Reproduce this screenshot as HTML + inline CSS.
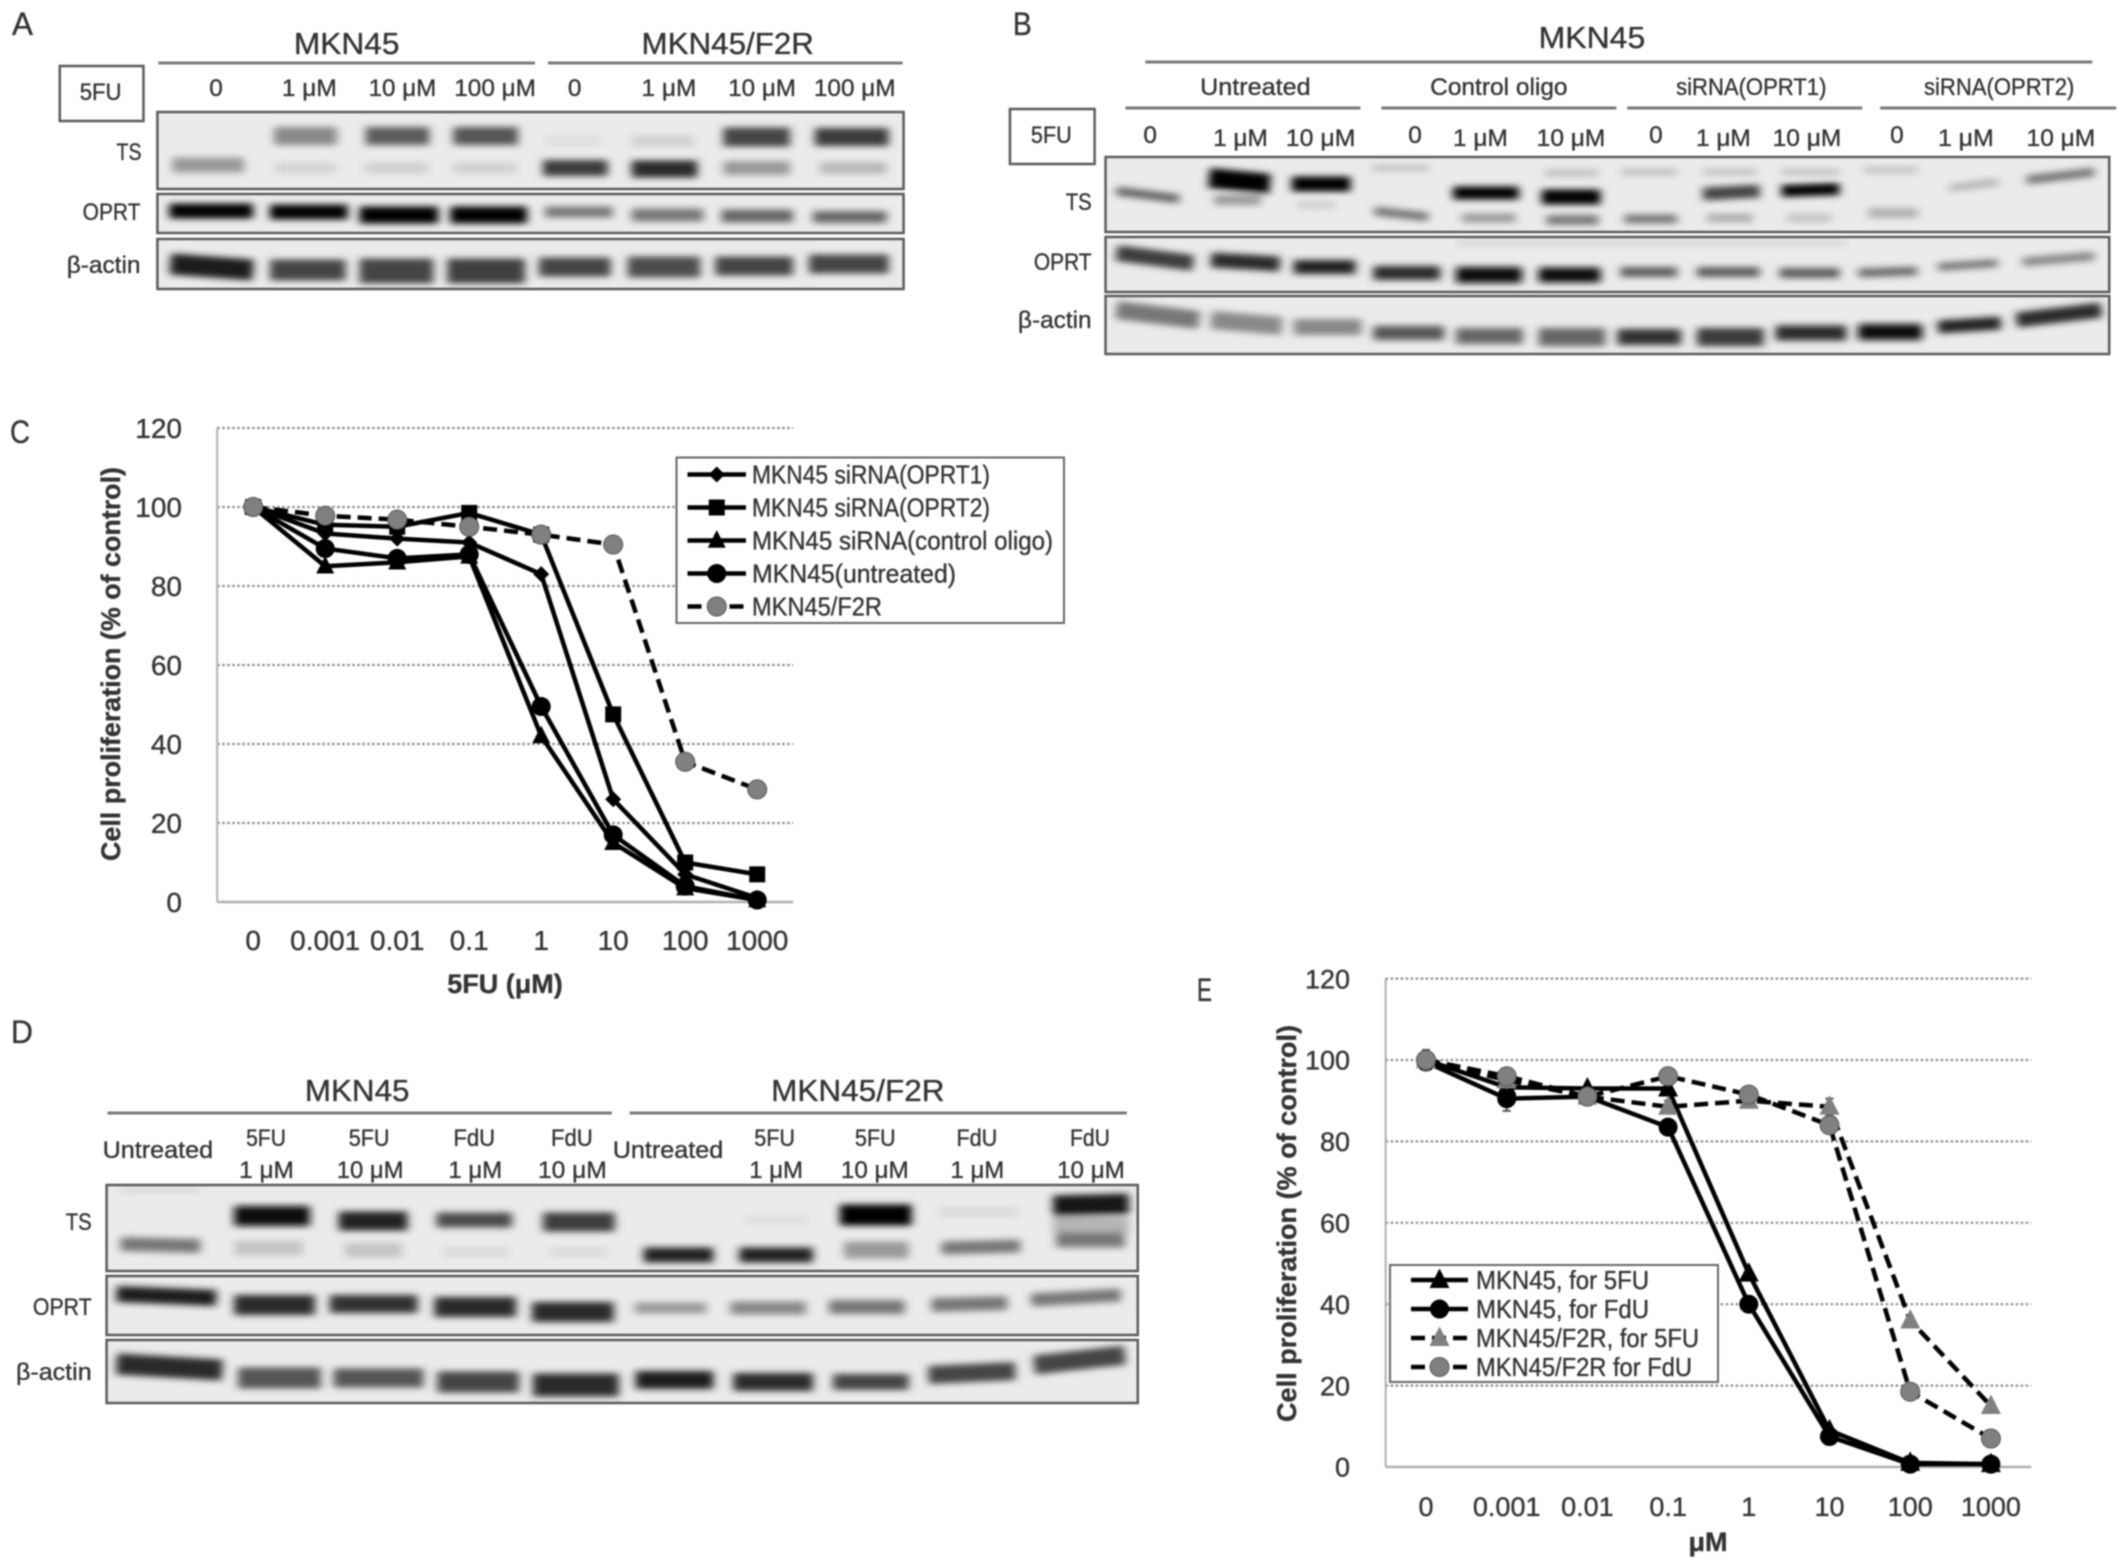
<!DOCTYPE html>
<html lang="en">
<head>
<meta charset="utf-8">
<title>5-FU resistance figure</title>
<style>
html,body{margin:0;padding:0;background:#fff;width:2126px;height:1565px;overflow:hidden}
#figure{display:block;filter:blur(0.8px)}
text{font-family:"Liberation Sans",sans-serif;fill:#333;stroke:#333;stroke-width:.35px}
.big{font-size:31px}
.lab{font-size:24.5px}
.side{font-size:24px}
.letter{font-size:32px}
.rule{stroke:#777;stroke-width:3}
.frame{fill:none;stroke:#5a5a5a;stroke-width:2.5}
.bg{fill:#ebebeb}
.boxed{fill:none;stroke:#5a5a5a;stroke-width:2.5}
</style>
</head>
<body>
<svg id="figure" xmlns="http://www.w3.org/2000/svg" width="2126" height="1565" viewBox="0 0 2126 1565">
<defs>
<filter id="soft" filterUnits="userSpaceOnUse" x="0" y="0" width="2126" height="1565"><feGaussianBlur stdDeviation="4.5 3.2"/></filter>
</defs>

<!-- PANEL A -->
<g transform="scale(0.9962 1)">
<text class="letter" x="12" y="35" textLength="21" lengthAdjust="spacingAndGlyphs">A</text>
<text class="big" x="295" y="54" textLength="106" lengthAdjust="spacingAndGlyphs">MKN45</text>
<text class="big" x="644" y="54" textLength="173" lengthAdjust="spacingAndGlyphs">MKN45/F2R</text>
<line class="rule" x1="159" y1="63" x2="537" y2="63"/>
<line class="rule" x1="550" y1="63" x2="906" y2="63"/>
<rect class="boxed" x="60" y="66" width="84" height="55"/>
<text class="lab" x="80" y="100" textLength="42" lengthAdjust="spacingAndGlyphs">5FU</text>
<text class="lab" x="210" y="96">0</text>
<text class="lab" x="283" y="96" textLength="55" lengthAdjust="spacingAndGlyphs">1 μM</text>
<text class="lab" x="370" y="96" textLength="68" lengthAdjust="spacingAndGlyphs">10 μM</text>
<text class="lab" x="456" y="96" textLength="82" lengthAdjust="spacingAndGlyphs">100 μM</text>
<text class="lab" x="570" y="96">0</text>
<text class="lab" x="644" y="96" textLength="55" lengthAdjust="spacingAndGlyphs">1 μM</text>
<text class="lab" x="731" y="96" textLength="68" lengthAdjust="spacingAndGlyphs">10 μM</text>
<text class="lab" x="817" y="96" textLength="82" lengthAdjust="spacingAndGlyphs">100 μM</text>
<text class="side" x="117" y="160" textLength="25" lengthAdjust="spacingAndGlyphs">TS</text>
<text class="side" x="83" y="220" textLength="58" lengthAdjust="spacingAndGlyphs">OPRT</text>
<text class="side" x="67" y="273" textLength="74" lengthAdjust="spacingAndGlyphs">β-actin</text>
<rect class="bg" x="158" y="112" width="749" height="77"/>
<rect class="bg" x="158" y="194" width="749" height="39"/>
<rect class="bg" x="158" y="239" width="749" height="50"/>
<g filter="url(#soft)">
<line x1="173" y1="165" x2="245" y2="165" stroke-width="15" stroke="#999"/>
<line x1="275" y1="136" x2="338" y2="136" stroke-width="18" stroke="#888"/>
<line x1="275" y1="168" x2="338" y2="168" stroke-width="11" stroke="#d4d4d4"/>
<line x1="367" y1="136" x2="431" y2="136" stroke-width="18" stroke="#5c5c5c"/>
<line x1="367" y1="168" x2="429" y2="168" stroke-width="11" stroke="#cfcfcf"/>
<line x1="455" y1="136" x2="520" y2="136" stroke-width="18" stroke="#555"/>
<line x1="455" y1="168" x2="518" y2="168" stroke-width="11" stroke="#d0d0d0"/>
<line x1="548" y1="141" x2="604" y2="141" stroke-width="10" stroke="#dedede"/>
<line x1="545" y1="168" x2="610" y2="168" stroke-width="16" stroke="#3a3a3a"/>
<line x1="634" y1="141" x2="697" y2="141" stroke-width="12" stroke="#d2d2d2"/>
<line x1="634" y1="169" x2="700" y2="169" stroke-width="17" stroke="#2a2a2a"/>
<line x1="726" y1="137" x2="793" y2="137" stroke-width="19" stroke="#444"/>
<line x1="726" y1="168" x2="793" y2="168" stroke-width="14" stroke="#999"/>
<line x1="818" y1="137" x2="892" y2="137" stroke-width="18" stroke="#3a3a3a"/>
<line x1="823" y1="168" x2="890" y2="168" stroke-width="12" stroke="#b8b8b8"/>
</g>
<g filter="url(#soft)">
<line x1="170" y1="211" x2="254" y2="211" stroke-width="15" stroke="#000"/>
<line x1="271" y1="212" x2="349" y2="212" stroke-width="15" stroke="#000"/>
<line x1="361" y1="215" x2="440" y2="215" stroke-width="17" stroke="#000"/>
<line x1="452" y1="215" x2="529" y2="215" stroke-width="17" stroke="#000"/>
<line x1="547" y1="212" x2="615" y2="212" stroke-width="11" stroke="#777"/>
<line x1="634" y1="215" x2="706" y2="215" stroke-width="13" stroke="#777"/>
<line x1="724" y1="216" x2="796" y2="216" stroke-width="13" stroke="#666"/>
<line x1="816" y1="217" x2="890" y2="217" stroke-width="12" stroke="#666"/>
</g>
<g filter="url(#soft)">
<line x1="171" y1="264" x2="254" y2="270" stroke-width="21" stroke="#1e1e1e"/>
<line x1="271" y1="270" x2="347" y2="270" stroke-width="21" stroke="#444"/>
<line x1="361" y1="271" x2="435" y2="271" stroke-width="25" stroke="#444"/>
<line x1="449" y1="271" x2="527" y2="271" stroke-width="25" stroke="#404040"/>
<line x1="541" y1="267" x2="613" y2="267" stroke-width="19" stroke="#444"/>
<line x1="630" y1="267" x2="703" y2="267" stroke-width="21" stroke="#4d4d4d"/>
<line x1="718" y1="266" x2="796" y2="266" stroke-width="19" stroke="#444"/>
<line x1="812" y1="264" x2="892" y2="264" stroke-width="19" stroke="#444"/>
</g>
<rect class="frame" x="158" y="112" width="749" height="77"/>
<rect class="frame" x="158" y="194" width="749" height="39"/>
<rect class="frame" x="158" y="239" width="749" height="50"/>
</g>

<!-- PANEL B -->
<g transform="translate(1000 0) scale(0.9957 1) translate(-1000 0)">
<text class="letter" x="1013" y="35" textLength="19" lengthAdjust="spacingAndGlyphs">B</text>
<text class="big" x="1541" y="48" textLength="107" lengthAdjust="spacingAndGlyphs">MKN45</text>
<line class="rule" x1="1146" y1="62" x2="2097" y2="62"/>
<text class="lab" x="1201" y="95" textLength="111" lengthAdjust="spacingAndGlyphs">Untreated</text>
<text class="lab" x="1432" y="95" textLength="138" lengthAdjust="spacingAndGlyphs">Control oligo</text>
<text class="lab" x="1679" y="95" textLength="151" lengthAdjust="spacingAndGlyphs">siRNA(OPRT1)</text>
<text class="lab" x="1928" y="95" textLength="151" lengthAdjust="spacingAndGlyphs">siRNA(OPRT2)</text>
<line class="rule" x1="1126" y1="108" x2="1362" y2="108"/>
<line class="rule" x1="1383" y1="108" x2="1619" y2="108"/>
<line class="rule" x1="1630" y1="108" x2="1866" y2="108"/>
<line class="rule" x1="1884" y1="108" x2="2121" y2="108"/>
<rect class="boxed" x="1010" y="109" width="85" height="55"/>
<text class="lab" x="1031" y="143" textLength="41" lengthAdjust="spacingAndGlyphs">5FU</text>
<text class="lab" x="1144" y="143">0</text>
<text class="lab" x="1214" y="146" textLength="55" lengthAdjust="spacingAndGlyphs">1 μM</text>
<text class="lab" x="1287" y="146" textLength="70" lengthAdjust="spacingAndGlyphs">10 μM</text>
<text class="lab" x="1410" y="143">0</text>
<text class="lab" x="1455" y="146" textLength="55" lengthAdjust="spacingAndGlyphs">1 μM</text>
<text class="lab" x="1539" y="146" textLength="69" lengthAdjust="spacingAndGlyphs">10 μM</text>
<text class="lab" x="1652" y="143">0</text>
<text class="lab" x="1699" y="146" textLength="55" lengthAdjust="spacingAndGlyphs">1 μM</text>
<text class="lab" x="1776" y="146" textLength="69" lengthAdjust="spacingAndGlyphs">10 μM</text>
<text class="lab" x="1894" y="143">0</text>
<text class="lab" x="1942" y="146" textLength="56" lengthAdjust="spacingAndGlyphs">1 μM</text>
<text class="lab" x="2031" y="146" textLength="69" lengthAdjust="spacingAndGlyphs">10 μM</text>
<text class="side" x="1066" y="210" textLength="26" lengthAdjust="spacingAndGlyphs">TS</text>
<text class="side" x="1034" y="270" textLength="58" lengthAdjust="spacingAndGlyphs">OPRT</text>
<text class="side" x="1018" y="328" textLength="74" lengthAdjust="spacingAndGlyphs">β-actin</text>
<rect class="bg" x="1106" y="157" width="1008" height="75"/>
<rect class="bg" x="1106" y="237" width="1008" height="55"/>
<rect class="bg" x="1106" y="296" width="1008" height="58"/>
<g filter="url(#soft)">
<line x1="1117" y1="191" x2="1180" y2="199" stroke-width="9" stroke="#666"/>
<line x1="1210" y1="178" x2="1271" y2="184" stroke-width="20" stroke="#000"/>
<line x1="1215" y1="200" x2="1262" y2="200" stroke-width="10" stroke="#999"/>
<line x1="1293" y1="184" x2="1352" y2="184" stroke-width="15" stroke="#000"/>
<line x1="1298" y1="205" x2="1337" y2="205" stroke-width="8" stroke="#d0d0d0"/>
<line x1="1374" y1="168" x2="1431" y2="168" stroke-width="7" stroke="#c4c4c4"/>
<line x1="1376" y1="211" x2="1430" y2="217" stroke-width="9" stroke="#777"/>
<line x1="1455" y1="193" x2="1521" y2="193" stroke-width="13" stroke="#000"/>
<line x1="1464" y1="218" x2="1518" y2="218" stroke-width="9" stroke="#999"/>
<line x1="1547" y1="173" x2="1601" y2="173" stroke-width="8" stroke="#c4c4c4"/>
<line x1="1544" y1="197" x2="1603" y2="197" stroke-width="15" stroke="#000"/>
<line x1="1549" y1="220" x2="1601" y2="220" stroke-width="10" stroke="#777"/>
<line x1="1624" y1="172" x2="1680" y2="172" stroke-width="7" stroke="#c0c0c0"/>
<line x1="1627" y1="219" x2="1680" y2="219" stroke-width="9" stroke="#777"/>
<line x1="1706" y1="172" x2="1760" y2="172" stroke-width="7" stroke="#c4c4c4"/>
<line x1="1706" y1="194" x2="1763" y2="191" stroke-width="13" stroke="#444"/>
<line x1="1710" y1="218" x2="1756" y2="218" stroke-width="9" stroke="#b0b0b0"/>
<line x1="1785" y1="172" x2="1843" y2="172" stroke-width="7" stroke="#c4c4c4"/>
<line x1="1785" y1="191" x2="1843" y2="189" stroke-width="12" stroke="#000"/>
<line x1="1790" y1="218" x2="1835" y2="218" stroke-width="9" stroke="#c4c4c4"/>
<line x1="1868" y1="170" x2="1922" y2="170" stroke-width="7" stroke="#c4c4c4"/>
<line x1="1872" y1="213" x2="1922" y2="213" stroke-width="10" stroke="#b0b0b0"/>
<line x1="1954" y1="188" x2="2003" y2="182" stroke-width="8" stroke="#b8b8b8"/>
<line x1="2031" y1="180" x2="2099" y2="172" stroke-width="9" stroke="#777"/>
</g>
<g filter="url(#soft)">
<line x1="1117" y1="253" x2="1194" y2="263" stroke-width="16" stroke="#3c3c3c"/>
<line x1="1212" y1="260" x2="1281" y2="264" stroke-width="15" stroke="#2c2c2c"/>
<line x1="1295" y1="267" x2="1357" y2="267" stroke-width="14" stroke="#222"/>
<line x1="1375" y1="273" x2="1442" y2="273" stroke-width="14" stroke="#2a2a2a"/>
<line x1="1458" y1="275" x2="1524" y2="275" stroke-width="16" stroke="#0c0c0c"/>
<line x1="1541" y1="275" x2="1603" y2="275" stroke-width="15" stroke="#0c0c0c"/>
<line x1="1623" y1="272" x2="1680" y2="272" stroke-width="10" stroke="#5c5c5c"/>
<line x1="1700" y1="272" x2="1763" y2="272" stroke-width="10" stroke="#5c5c5c"/>
<line x1="1783" y1="273" x2="1843" y2="273" stroke-width="10" stroke="#5c5c5c"/>
<line x1="1862" y1="273" x2="1921" y2="271" stroke-width="9" stroke="#6c6c6c"/>
<line x1="1942" y1="267" x2="2002" y2="263" stroke-width="8" stroke="#777"/>
<line x1="2027" y1="262" x2="2099" y2="256" stroke-width="9" stroke="#888"/>
<line x1="1460" y1="243" x2="1850" y2="243" stroke-width="6" stroke="#d4d4d4"/>
</g>
<g filter="url(#soft)">
<line x1="1117" y1="310" x2="1200" y2="320" stroke-width="18" stroke="#777"/>
<line x1="1212" y1="320" x2="1283" y2="326" stroke-width="18" stroke="#888"/>
<line x1="1295" y1="327" x2="1363" y2="327" stroke-width="16" stroke="#888"/>
<line x1="1375" y1="333" x2="1446" y2="333" stroke-width="14" stroke="#555"/>
<line x1="1458" y1="336" x2="1525" y2="336" stroke-width="16" stroke="#666"/>
<line x1="1541" y1="337" x2="1608" y2="337" stroke-width="18" stroke="#666"/>
<line x1="1620" y1="337" x2="1684" y2="337" stroke-width="16" stroke="#333"/>
<line x1="1700" y1="337" x2="1767" y2="337" stroke-width="18" stroke="#3a3a3a"/>
<line x1="1779" y1="333" x2="1850" y2="333" stroke-width="15" stroke="#2a2a2a"/>
<line x1="1862" y1="332" x2="1926" y2="332" stroke-width="16" stroke="#0c0c0c"/>
<line x1="1942" y1="327" x2="2005" y2="323" stroke-width="13" stroke="#222"/>
<line x1="2021" y1="320" x2="2106" y2="310" stroke-width="15" stroke="#2a2a2a"/>
</g>
<rect class="frame" x="1106" y="157" width="1008" height="75"/>
<rect class="frame" x="1106" y="237" width="1008" height="55"/>
<rect class="frame" x="1106" y="296" width="1008" height="58"/>
</g>

<!-- PANEL C -->
<text class="letter" x="10" y="443" textLength="20" lengthAdjust="spacingAndGlyphs">C</text>
<g id="chart-c"></g>

<!-- PANEL D -->
<g transform="scale(0.9963 1)">
<text class="letter" x="11" y="1043" textLength="22" lengthAdjust="spacingAndGlyphs">D</text>
<text class="big" x="306" y="1101" textLength="105" lengthAdjust="spacingAndGlyphs">MKN45</text>
<text class="big" x="774" y="1101" textLength="174" lengthAdjust="spacingAndGlyphs">MKN45/F2R</text>
<line class="rule" x1="108" y1="1113" x2="614" y2="1113"/>
<line class="rule" x1="632" y1="1113" x2="1131" y2="1113"/>
<text class="lab" x="103" y="1158" textLength="111" lengthAdjust="spacingAndGlyphs">Untreated</text>
<text class="lab" x="247" y="1146" textLength="40" lengthAdjust="spacingAndGlyphs">5FU</text>
<text class="lab" x="240" y="1178" textLength="55" lengthAdjust="spacingAndGlyphs">1 μM</text>
<text class="lab" x="350" y="1146" textLength="41" lengthAdjust="spacingAndGlyphs">5FU</text>
<text class="lab" x="338" y="1178" textLength="67" lengthAdjust="spacingAndGlyphs">10 μM</text>
<text class="lab" x="455" y="1146" textLength="42" lengthAdjust="spacingAndGlyphs">FdU</text>
<text class="lab" x="450" y="1178" textLength="54" lengthAdjust="spacingAndGlyphs">1 μM</text>
<text class="lab" x="553" y="1146" textLength="42" lengthAdjust="spacingAndGlyphs">FdU</text>
<text class="lab" x="540" y="1178" textLength="69" lengthAdjust="spacingAndGlyphs">10 μM</text>
<text class="lab" x="615" y="1158" textLength="111" lengthAdjust="spacingAndGlyphs">Untreated</text>
<text class="lab" x="757" y="1146" textLength="41" lengthAdjust="spacingAndGlyphs">5FU</text>
<text class="lab" x="752" y="1178" textLength="54" lengthAdjust="spacingAndGlyphs">1 μM</text>
<text class="lab" x="858" y="1146" textLength="41" lengthAdjust="spacingAndGlyphs">5FU</text>
<text class="lab" x="844" y="1178" textLength="68" lengthAdjust="spacingAndGlyphs">10 μM</text>
<text class="lab" x="960" y="1146" textLength="41" lengthAdjust="spacingAndGlyphs">FdU</text>
<text class="lab" x="954" y="1178" textLength="54" lengthAdjust="spacingAndGlyphs">1 μM</text>
<text class="lab" x="1074" y="1146" textLength="40" lengthAdjust="spacingAndGlyphs">FdU</text>
<text class="lab" x="1061" y="1178" textLength="68" lengthAdjust="spacingAndGlyphs">10 μM</text>
<text class="side" x="66" y="1230" textLength="26" lengthAdjust="spacingAndGlyphs">TS</text>
<text class="side" x="33" y="1315" textLength="59" lengthAdjust="spacingAndGlyphs">OPRT</text>
<text class="side" x="16" y="1380" textLength="76" lengthAdjust="spacingAndGlyphs">β-actin</text>
<rect class="bg" x="107" y="1185" width="1035" height="86"/>
<rect class="bg" x="107" y="1276" width="1035" height="59"/>
<rect class="bg" x="107" y="1340" width="1035" height="63"/>
<g filter="url(#soft)">
<line x1="121" y1="1244" x2="201" y2="1246" stroke-width="14" stroke="#777"/>
<line x1="121" y1="1190" x2="201" y2="1190" stroke-width="6" stroke="#d8d8d8"/>
<line x1="235" y1="1216" x2="311" y2="1216" stroke-width="20" stroke="#0c0c0c"/>
<line x1="235" y1="1248" x2="304" y2="1248" stroke-width="15" stroke="#c4c4c4"/>
<line x1="340" y1="1221" x2="409" y2="1221" stroke-width="19" stroke="#222"/>
<line x1="346" y1="1250" x2="403" y2="1250" stroke-width="15" stroke="#c4c4c4"/>
<line x1="438" y1="1220" x2="514" y2="1220" stroke-width="15" stroke="#4c4c4c"/>
<line x1="445" y1="1252" x2="510" y2="1252" stroke-width="11" stroke="#dcdcdc"/>
<line x1="545" y1="1222" x2="617" y2="1222" stroke-width="19" stroke="#3c3c3c"/>
<line x1="552" y1="1252" x2="610" y2="1252" stroke-width="11" stroke="#dcdcdc"/>
<line x1="646" y1="1255" x2="716" y2="1255" stroke-width="15" stroke="#222"/>
<line x1="747" y1="1220" x2="812" y2="1220" stroke-width="9" stroke="#e0e0e0"/>
<line x1="742" y1="1255" x2="816" y2="1255" stroke-width="15" stroke="#222"/>
<line x1="843" y1="1215" x2="915" y2="1215" stroke-width="21" stroke="#000"/>
<line x1="847" y1="1250" x2="912" y2="1250" stroke-width="17" stroke="#999"/>
<line x1="943" y1="1212" x2="1022" y2="1212" stroke-width="11" stroke="#dcdcdc"/>
<line x1="945" y1="1248" x2="1024" y2="1246" stroke-width="13" stroke="#777"/>
<line x1="1057" y1="1225" x2="1133" y2="1225" stroke-width="16" stroke="#b4b4b4"/>
<line x1="1057" y1="1206" x2="1133" y2="1204" stroke-width="21" stroke="#141414"/>
<line x1="1060" y1="1240" x2="1129" y2="1240" stroke-width="15" stroke="#777"/>
</g>
<g filter="url(#soft)">
<line x1="117" y1="1294" x2="217" y2="1298" stroke-width="16" stroke="#1a1a1a"/>
<line x1="235" y1="1305" x2="316" y2="1305" stroke-width="20" stroke="#2c2c2c"/>
<line x1="331" y1="1304" x2="419" y2="1304" stroke-width="18" stroke="#333"/>
<line x1="436" y1="1307" x2="518" y2="1307" stroke-width="20" stroke="#2c2c2c"/>
<line x1="534" y1="1312" x2="616" y2="1312" stroke-width="20" stroke="#2c2c2c"/>
<line x1="637" y1="1308" x2="709" y2="1308" stroke-width="11" stroke="#999"/>
<line x1="733" y1="1308" x2="809" y2="1308" stroke-width="13" stroke="#888"/>
<line x1="832" y1="1307" x2="908" y2="1307" stroke-width="14" stroke="#777"/>
<line x1="935" y1="1305" x2="1011" y2="1303" stroke-width="14" stroke="#777"/>
<line x1="1035" y1="1300" x2="1125" y2="1295" stroke-width="13" stroke="#777"/>
</g>
<g filter="url(#soft)">
<line x1="117" y1="1364" x2="223" y2="1370" stroke-width="21" stroke="#2c2c2c"/>
<line x1="239" y1="1378" x2="322" y2="1378" stroke-width="21" stroke="#555"/>
<line x1="335" y1="1378" x2="425" y2="1378" stroke-width="19" stroke="#555"/>
<line x1="439" y1="1382" x2="521" y2="1382" stroke-width="21" stroke="#444"/>
<line x1="535" y1="1385" x2="621" y2="1385" stroke-width="23" stroke="#2c2c2c"/>
<line x1="638" y1="1380" x2="716" y2="1380" stroke-width="18" stroke="#1a1a1a"/>
<line x1="736" y1="1382" x2="816" y2="1382" stroke-width="18" stroke="#2c2c2c"/>
<line x1="836" y1="1382" x2="912" y2="1382" stroke-width="16" stroke="#444"/>
<line x1="932" y1="1375" x2="1019" y2="1371" stroke-width="18" stroke="#444"/>
<line x1="1038" y1="1365" x2="1129" y2="1355" stroke-width="19" stroke="#444"/>
</g>
<rect class="frame" x="107" y="1185" width="1035" height="86"/>
<rect class="frame" x="107" y="1276" width="1035" height="59"/>
<rect class="frame" x="107" y="1340" width="1035" height="63"/>
</g>

<!-- PANEL E -->
<text class="letter" x="1197" y="1001" textLength="15" lengthAdjust="spacingAndGlyphs">E</text>
<g id="chart-e"></g>
</svg>

<script>
// ---- Chart C data ----
const categoriesC = ['0', '0.001', '0.01', '0.1', '1', '10', '100', '1000'];
const yTickLabelsC = [0, 20, 40, 60, 80, 100, 120];
const oprt1ValuesC = [100, 93.3, 92, 91, 83, 26, 7, 1];
const oprt2ValuesC = [100, 95.5, 95, 98.5, 93, 47.5, 10, 7];
const controlOligoValuesC = [100, 85, 86, 87.5, 42, 15, 3.5, 0.5];
const untreatedValuesC = [100, 89.5, 87, 88, 49.5, 17, 4, 0.5];
const f2rValuesC = [100, 97.8, 96.8, 95, 93, 90.5, 35.5, 28.5];
const seriesNamesC = ['MKN45 siRNA(OPRT1)', 'MKN45 siRNA(OPRT2)', 'MKN45 siRNA(control oligo)', 'MKN45(untreated)', 'MKN45/F2R'];

// ---- Chart E data ----
const categoriesE = ['0', '0.001', '0.01', '0.1', '1', '10', '100', '1000'];
const yTickLabelsE = [0, 20, 40, 60, 80, 100, 120];
const mkn5fuValuesE = [100, 93.3, 93, 93, 47.5, 9, 1, 0.7];
const mknFduValuesE = [99.5, 90.5, 91, 83.5, 40, 7.5, 0.7, 0.7];
const f2r5fuValuesE = [100, 95, 91, 88.5, 90, 88.5, 36, 15];
const f2rFduValuesE = [100, 96, 91, 96, 91.5, 84, 18.5, 7];
const mknFduErrorsE = [1.5, 3, 1, 1, 1, 0.5, 0.3, 0.3];
const f2r5fuErrorsE = [2.5, 1.5, 2, 1.5, 1, 2, 1, 1];
const seriesNamesE = ['MKN45, for 5FU', 'MKN45, for FdU', 'MKN45/F2R, for 5FU', 'MKN45/F2R for FdU'];

const NS = 'http://www.w3.org/2000/svg';
function mk(tag, attrs, parent) {
  const n = document.createElementNS(NS, tag);
  for (const k in attrs) n.setAttribute(k, attrs[k]);
  parent.appendChild(n);
  return n;
}
function drawMarker(parent, kind, cx, cy, r, fill) {
  let m;
  if (kind === 'circle') {
    m = mk('circle', {cx: cx, cy: cy, r: r, fill: fill, stroke: fill === '#000' ? '#000' : '#555', 'stroke-width': 1}, parent);
  } else if (kind === 'square') {
    m = mk('rect', {x: cx - r, y: cy - r, width: 2 * r, height: 2 * r, fill: fill}, parent);
  } else if (kind === 'diamond') {
    m = mk('polygon', {points: [cx, cy - r, cx + r, cy, cx, cy + r, cx - r, cy].join(' '), fill: fill}, parent);
  } else {
    m = mk('polygon', {points: [cx, cy - r * 1.15, cx + r, cy + r * 0.8, cx - r, cy + r * 0.8].join(' '), fill: fill}, parent);
  }
  
  
  return m;
}
function drawChart(root, c) {
  const xScale = i => c.x0 + i * c.step;
  const yScale = v => c.yZero - v * c.yUnit;
  const left = xScale(-0.5);
  const right = xScale(c.categories.length - 0.5);

  c.yTicks.forEach(t => {
    if (t > 0) {
      const g = mk('line', {x1: left, x2: right, y1: yScale(t), y2: yScale(t), stroke: '#8a8a8a', 'stroke-width': 2.2, 'stroke-dasharray': '2.5 2.5'}, root);
      
      
    }
    const lab = mk('text', {x: c.yLabelX, y: yScale(t) + c.tickSize * 0.36, 'text-anchor': 'end', 'font-size': c.tickSize}, root);
    lab.textContent = t;
    
    
  });
  const ya = mk('line', {x1: left, x2: left, y1: yScale(120), y2: yScale(0), stroke: '#b0b0b0', 'stroke-width': 2}, root);
  
  
  const xa = mk('line', {x1: left, x2: right, y1: yScale(0), y2: yScale(0), stroke: '#b0b0b0', 'stroke-width': 2.5}, root);
  
  

  c.categories.forEach((cat, i) => {
    const lab = mk('text', {x: xScale(i), y: c.xLabelY, 'text-anchor': 'middle', 'font-size': c.tickSize}, root);
    lab.textContent = cat;
    
    
  });

  const xt = mk('text', {x: c.xTitleX, y: c.xTitleY, 'text-anchor': 'middle', 'font-size': 27, 'font-weight': 'bold'}, root);
  xt.textContent = c.xTitle;
  
  
  const yt = mk('text', {transform: 'translate(' + c.yTitleX + ',' + c.yTitleBottom + ') rotate(-90)', 'font-size': 27, 'font-weight': 'bold', textLength: c.yTitleLen, lengthAdjust: 'spacingAndGlyphs'}, root);
  yt.textContent = 'Cell proliferation (% of control)';
  
  

  c.series.forEach(s => {
    const group = mk('g', {}, root);
    
    
    if (s.errors) {
      s.errors.forEach((e, i) => {
        const eb = mk('path', {d: 'M' + (xScale(i) - 4) + ' ' + yScale(s.values[i] - e) + 'h8M' + xScale(i) + ' ' + yScale(s.values[i] - e) + 'V' + yScale(s.values[i] + e) + 'M' + (xScale(i) - 4) + ' ' + yScale(s.values[i] + e) + 'h8', stroke: '#555', 'stroke-width': 2, fill: 'none'}, group);
        
        
      });
    }
    const pts = s.values.map((v, i) => xScale(i) + ',' + yScale(v)).join(' ');
    const line = mk('polyline', {points: pts, fill: 'none', stroke: '#000', 'stroke-width': s.width, 'stroke-linejoin': 'round'}, group);
    if (s.dashed) line.setAttribute('stroke-dasharray', '14 7');
    
    
    s.values.forEach((v, i) => drawMarker(group, s.marker, xScale(i), yScale(v), s.size, s.fill));
  });

  const lg = mk('g', {}, root);
  
  
  const box = mk('rect', {x: c.legend.x, y: c.legend.y, width: c.legend.w, height: c.legend.h, fill: '#fff', stroke: '#666', 'stroke-width': 2}, lg);
  
  
  c.series.forEach((s, i) => {
    const ry = c.legend.rowY + i * c.legend.rowStep;
    const h = mk('line', {x1: c.legend.hx1, x2: c.legend.hx2, y1: ry, y2: ry, stroke: '#000', 'stroke-width': s.width}, lg);
    if (s.dashed) h.setAttribute('stroke-dasharray', '14 7');
    
    
    drawMarker(lg, s.marker, (c.legend.hx1 + c.legend.hx2) / 2, ry, s.size, s.fill);
    const t = mk('text', {x: c.legend.tx, y: ry + 9, 'font-size': c.legend.font, textLength: c.legend.textWidths[i], lengthAdjust: 'spacingAndGlyphs'}, lg);
    t.textContent = c.names[i];
    
    
  });
}

drawChart(document.getElementById('chart-c'), {
  categories: categoriesC, yTicks: yTickLabelsC, names: seriesNamesC,
  x0: 253.2, step: 72, yZero: 902, yUnit: 3.95,
  tickSize: 28, yLabelX: 182, xLabelY: 950,
  xTitle: '5FU (μM)', xTitleX: 505, xTitleY: 993,
  yTitleX: 120, yTitleBottom: 861, yTitleLen: 394,
  series: [
    {id: 'oprt1', values: oprt1ValuesC, marker: 'diamond', size: 8, fill: '#000', width: 4.5},
    {id: 'oprt2', values: oprt2ValuesC, marker: 'square', size: 8, fill: '#000', width: 4.5},
    {id: 'control-oligo', values: controlOligoValuesC, marker: 'triangle', size: 9, fill: '#000', width: 4.5},
    {id: 'untreated', values: untreatedValuesC, marker: 'circle', size: 9, fill: '#000', width: 4.5},
    {id: 'f2r', values: f2rValuesC, marker: 'circle', size: 9.5, fill: '#808080', width: 4.5, dashed: true}
  ],
  legend: {x: 676.5, y: 457.5, w: 387.5, h: 165.5, rowY: 474.5, rowStep: 33, hx1: 687.5, hx2: 746, tx: 752, font: 26, textWidths: [238, 238, 301, 204, 130]}
});

drawChart(document.getElementById('chart-e'), {
  categories: categoriesE, yTicks: yTickLabelsE, names: seriesNamesE,
  x0: 1426, step: 80.7, yZero: 1467, yUnit: 4.07,
  tickSize: 27, yLabelX: 1350, xLabelY: 1516,
  xTitle: 'μM', xTitleX: 1708, xTitleY: 1551,
  yTitleX: 1296, yTitleBottom: 1422, yTitleLen: 397,
  series: [
    {id: 'mkn45-5fu', values: mkn5fuValuesE, marker: 'triangle', size: 10, fill: '#000', width: 4.5},
    {id: 'mkn45-fdu', values: mknFduValuesE, errors: mknFduErrorsE, marker: 'circle', size: 9, fill: '#000', width: 4.5},
    {id: 'f2r-5fu', values: f2r5fuValuesE, errors: f2r5fuErrorsE, marker: 'triangle', size: 10, fill: '#808080', width: 4.5, dashed: true},
    {id: 'f2r-fdu', values: f2rFduValuesE, marker: 'circle', size: 9.5, fill: '#808080', width: 4.5, dashed: true}
  ],
  legend: {x: 1390, y: 1265, w: 328, h: 117, rowY: 1280, rowStep: 29, hx1: 1411, hx2: 1468, tx: 1476, font: 26, textWidths: [173, 173, 223, 216]}
});
</script>
</body>
</html>
